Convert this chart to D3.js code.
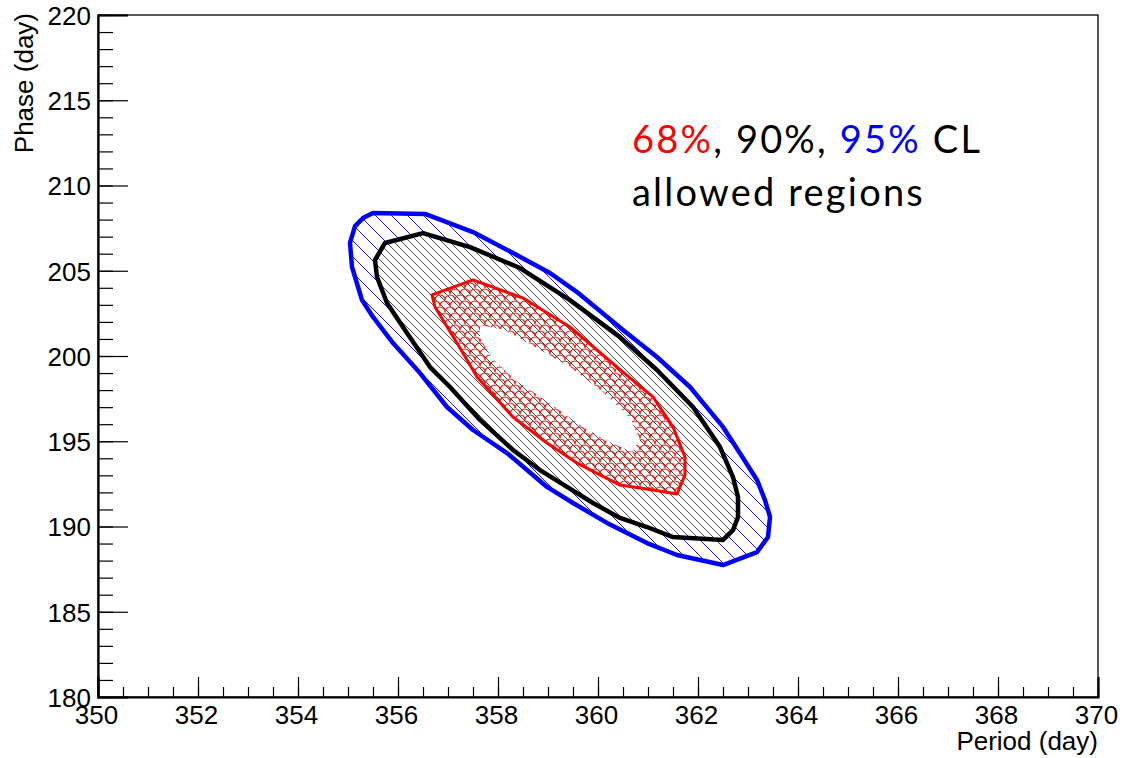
<!DOCTYPE html>
<html>
<head>
<meta charset="utf-8">
<script src="https://cdn.jsdelivr.net/npm/d3@7/dist/d3.min.js"></script>
<style>
body { margin: 0; background: #fff; }
</style>
</head>
<body>
<div class="item"></div>
<script>
var width = 1124;   // canvas width
var height = 758;   // canvas height

// axis ticks
var periodTicks = [350, 352, 354, 356, 358, 360, 362, 364, 366, 368, 370];
var phaseTicks = [180, 185, 190, 195, 200, 205, 210, 215, 220];

// 95% CL contour (period, phase)
var cl95Period = [355.50, 356.54, 357.50, 358.30, 359.04, 359.58, 360.50, 361.18, 361.84, 362.50, 362.90, 363.18, 363.34, 363.44, 363.40, 363.18, 362.50, 361.58, 360.98, 360.18, 359.50, 358.98, 358.18, 357.50, 356.98, 356.44, 355.90, 355.50, 355.28, 355.08, 355.04, 355.14, 355.30];
var cl95Phase = [208.39, 208.33, 207.27, 206.04, 204.87, 203.75, 201.52, 199.94, 198.18, 195.84, 194.02, 192.73, 191.55, 190.56, 189.38, 188.50, 187.74, 188.33, 189.03, 190.21, 191.38, 192.32, 194.31, 195.66, 197.01, 199.00, 200.76, 202.29, 203.28, 205.22, 206.63, 207.62, 208.09];

// 90% CL contour
var cl90Period = [355.74, 356.50, 357.44, 358.44, 359.44, 360.44, 361.18, 361.90, 362.44, 362.70, 362.80, 362.80, 362.70, 362.50, 361.50, 360.98, 360.44, 359.90, 359.38, 358.84, 358.30, 357.64, 357.04, 356.64, 356.18, 355.78, 355.58, 355.54];
var cl90Phase = [206.63, 207.21, 206.39, 205.16, 203.28, 201.11, 199.18, 197.01, 194.66, 192.90, 191.73, 190.56, 189.79, 189.21, 189.38, 189.97, 190.50, 191.38, 192.32, 193.31, 194.49, 196.25, 198.18, 199.35, 201.35, 203.11, 204.63, 205.63];

// 68% CL contour
var cl68Period = [356.68, 357.50, 358.50, 359.44, 360.50, 361.10, 361.50, 361.74, 361.74, 361.58, 361.10, 360.44, 359.58, 358.98, 358.30, 357.58, 357.18, 356.74];
var cl68Phase = [203.58, 204.46, 203.40, 201.70, 199.06, 197.60, 195.84, 194.08, 193.02, 191.91, 192.14, 192.43, 193.72, 194.90, 196.42, 198.77, 200.76, 202.87];

// empty area in the middle of the contours
var holePeriod = [357.64, 358.14, 358.78, 359.44, 360.10, 360.64, 360.84, 360.68, 360.14, 359.64, 358.94, 358.34, 357.88, 357.64];
var holePhase = [201.82, 201.52, 200.47, 199.35, 197.89, 196.36, 195.07, 194.37, 195.07, 195.95, 197.42, 198.59, 199.88, 201.06];

var svg = d3.select(".item")
    .append("svg")
    .attr("width", width)
    .attr("height", height)
    .style("font-family", "'Liberation Sans', Arial, sans-serif");

var x = d3.scaleLinear().domain([350, 370]).range([98, 1098]);
var y = d3.scaleLinear().domain([180, 220]).range([697, 15]);

// fill patterns
var defs = svg.append("defs");

defs.append("pattern")
    .attr("id", "blueHatch")
    .attr("patternUnits", "userSpaceOnUse")
    .attr("width", 16).attr("height", 16)
    .append("path")
    .attr("d", "M0,0L16,16M-2,14L2,18M14,-2L18,2")
    .attr("stroke", "#0000ff")
    .attr("stroke-width", 0.9);

defs.append("pattern")
    .attr("id", "blackHatch")
    .attr("patternUnits", "userSpaceOnUse")
    .attr("width", 8).attr("height", 8)
    .append("path")
    .attr("d", "M0,0L8,8M-2,6L2,10M6,-2L10,2")
    .attr("stroke", "#000")
    .attr("stroke-width", 0.7);

// fish scale pattern: rows of half circles, every other row shifted
var scales = defs.append("pattern")
    .attr("id", "redScales")
    .attr("patternUnits", "userSpaceOnUse")
    .attr("width", 10).attr("height", 12);
scales.append("path")
    .attr("d", "M0,6A5,5 0 0 1 10,6M-5,12A5,5 0 0 1 5,12M5,12A5,5 0 0 1 15,12M-5,0A5,5 0 0 1 5,0M5,0A5,5 0 0 1 15,0")
    .attr("fill", "none")
    .attr("stroke", "#ff0000")
    .attr("stroke-width", 1.1);

var line = d3.line()
    .x(function(d){ return x(d[0]); })
    .y(function(d){ return y(d[1]); })
    .curve(d3.curveLinearClosed);

var cl95 = d3.zip(cl95Period, cl95Phase);
var cl90 = d3.zip(cl90Period, cl90Phase);
var cl68 = d3.zip(cl68Period, cl68Phase);
var hole = d3.zip(holePeriod, holePhase);

// filled areas
svg.append("path").attr("d", line(cl95)).attr("fill", "url(#blueHatch)");
svg.append("path").attr("d", line(cl90)).attr("fill", "#fff");
svg.append("path").attr("d", line(cl90)).attr("fill", "url(#blackHatch)");
svg.append("path").attr("d", line(cl68)).attr("fill", "url(#redScales)");
svg.append("path").attr("d", line(hole)).attr("fill", "#fff");

// contour lines
svg.append("path").attr("d", line(cl95))
    .attr("fill", "none").attr("stroke", "#0000ff")
    .attr("stroke-width", 4.5).attr("stroke-linejoin", "round");
svg.append("path").attr("d", line(cl90))
    .attr("fill", "none").attr("stroke", "#000")
    .attr("stroke-width", 4.5).attr("stroke-linejoin", "round");
svg.append("path").attr("d", line(cl68))
    .attr("fill", "none").attr("stroke", "#ff0000")
    .attr("stroke-width", 3).attr("stroke-linejoin", "round");

// frame
svg.append("rect")
    .attr("x", 98).attr("y", 15)
    .attr("width", 1000).attr("height", 682)
    .attr("fill", "none").attr("stroke", "#000").attr("stroke-width", 1.3);

// x axis: minor ticks, then major ticks with labels
svg.append("g")
    .attr("transform", "translate(0,697)")
    .call(d3.axisBottom(x).tickValues(d3.range(350, 370.01, 0.5)).tickSize(-10).tickFormat(""))
    .call(function(g){ g.select(".domain").remove(); });

var xAxis = svg.append("g")
    .attr("transform", "translate(0,697)")
    .call(d3.axisBottom(x).tickValues(periodTicks).tickSize(-20).tickFormat(d3.format("d")));
xAxis.select(".domain").attr("stroke-width", 2.2);
xAxis.selectAll("text")
    .attr("y", 27).attr("dy", 0)
    .attr("x", -2)
    .style("font-size", "26px")
    .style("font-family", "'Liberation Sans', Arial, sans-serif")
    .attr("fill", "#000");

// y axis
svg.append("g")
    .attr("transform", "translate(98,0)")
    .call(d3.axisLeft(y).tickValues(d3.range(180, 220.01, 1)).tickSize(-15).tickFormat(""))
    .call(function(g){ g.select(".domain").remove(); });

var yAxis = svg.append("g")
    .attr("transform", "translate(98,0)")
    .call(d3.axisLeft(y).tickValues(phaseTicks).tickSize(-30).tickFormat(d3.format("d")));
yAxis.select(".domain").attr("stroke-width", 2.2);
yAxis.selectAll("text")
    .attr("x", -7).attr("dy", "0.36em")
    .style("font-size", "26px")
    .style("font-family", "'Liberation Sans', Arial, sans-serif")
    .attr("fill", "#000");

svg.selectAll(".tick line").attr("stroke", "#000").attr("stroke-width", 1.2);

// axis titles
svg.append("text")
    .attr("x", 1098).attr("y", 750)
    .attr("text-anchor", "end")
    .style("font-size", "26px")
    .text("Period (day)");

svg.append("text")
    .attr("transform", "translate(33,13) rotate(-90)")
    .attr("text-anchor", "end")
    .style("font-size", "26px")
    .text("Phase (day)");

// legend text
var note = svg.append("g")
    .style("font-family", "Lato, 'Open Sans', sans-serif")
    .style("font-size", "38px")
    .style("letter-spacing", "2.2px");

var l1 = note.append("text").attr("x", 632).attr("y", 153);
l1.append("tspan").attr("fill", "#ff0000").text("68%");
l1.append("tspan").attr("fill", "#000").text(", 90%, ");
l1.append("tspan").attr("fill", "#0000ff").text("95%");
l1.append("tspan").attr("fill", "#000").text(" CL");

note.append("text").attr("x", 632).attr("y", 206)
    .attr("fill", "#000")
    .text("allowed regions");
</script>
</body>
</html>
